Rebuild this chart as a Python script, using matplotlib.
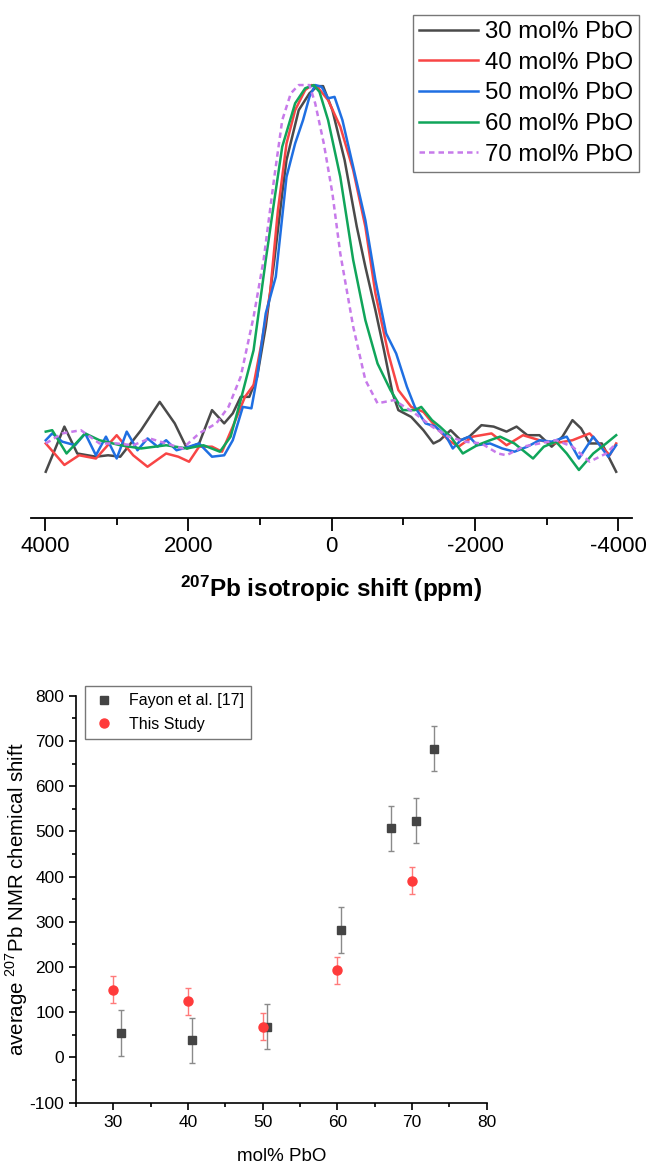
import matplotlib
matplotlib.use("Agg")
import matplotlib.pyplot as plt
from matplotlib.ticker import MultipleLocator
from matplotlib.lines import Line2D

# --- spectra (207Pb MAS NMR, normalised intensity) ---
labels = ["30 mol% PbO", "40 mol% PbO", "50 mol% PbO", "60 mol% PbO", "70 mol% PbO"]

ppm_30 = [3990, 3730, 3550, 3290, 3120, 2950, 2660, 2400, 2190, 2020, 1850, 1670, 1500, 1380,
          1270, 1150, 1040, 920, 800, 690, 630, 460, 310, 200, 120, -10, -180, -350, -470, -610,
          -730, -850, -930, -1110, -1280, -1420, -1510, -1660, -1800, -1920, -2090, -2260, -2440,
          -2580, -2730, -2900, -3070, -3220, -3360, -3480, -3600, -3770, -3970]
int_30 = [-0.079, 0.047, -0.028, -0.037, -0.033, -0.037, 0.037, 0.116, 0.056, -0.014, 0.000, 0.093,
          0.056, 0.084, 0.130, 0.130, 0.186, 0.326, 0.512, 0.698, 0.791, 0.930, 0.977, 0.997, 0.997,
          0.930, 0.791, 0.605, 0.493, 0.372, 0.260, 0.140, 0.093, 0.074, 0.037, 0.000, 0.009, 0.037,
          0.009, 0.019, 0.051, 0.047, 0.033, 0.047, 0.023, 0.023, -0.009, 0.019, 0.065, 0.042, 0.000,
          0.000, -0.079]

ppm_40 = [3990, 3730, 3525, 3290, 3000, 2770, 2570, 2310, 2140, 1990, 1850, 1670, 1530, 1380, 1210,
          1090, 980, 860, 750, 630, 510, 370, 280, 200, 50, -120, -300, -470, -610, -790, -930,
          -1110, -1280, -1450, -1630, -1770, -1970, -2230, -2440, -2670, -2900, -3100, -3360, -3600,
          -3770, -3880, -3970]
int_40 = [0.000, -0.060, -0.033, -0.042, 0.023, -0.033, -0.065, -0.028, -0.037, -0.051, -0.009, -0.009,
          -0.023, 0.047, 0.130, 0.163, 0.279, 0.419, 0.651, 0.837, 0.930, 0.986, 1.000, 0.995, 0.958,
          0.884, 0.763, 0.605, 0.419, 0.251, 0.149, 0.102, 0.088, 0.047, 0.009, -0.009, 0.019, 0.028,
          -0.005, 0.023, 0.009, 0.000, 0.009, 0.028, -0.009, -0.033, 0.000]

ppm_50 = [3990, 3900, 3760, 3580, 3440, 3290, 3150, 3000, 2860, 2710, 2570, 2430, 2310, 2165, 1990,
          1850, 1670, 1500, 1380, 1240, 1120, 1040, 920, 780, 630, 510, 400, 310, 230, 140, 50, -40,
          -150, -300, -470, -610, -760, -900, -1050, -1160, -1310, -1450, -1600, -1690, -1800, -1920,
          -2030, -2210, -2380, -2550, -2730, -2900, -3070, -3280, -3450, -3650, -3860, -3970]
int_50 = [0.009, 0.028, 0.005, -0.005, 0.028, -0.033, 0.019, -0.042, 0.033, -0.019, 0.014, -0.009,
          0.009, -0.019, -0.009, 0.000, -0.037, -0.033, 0.009, 0.102, 0.098, 0.186, 0.363, 0.465, 0.744,
          0.837, 0.902, 0.967, 1.000, 0.995, 0.963, 0.967, 0.902, 0.772, 0.623, 0.456, 0.307, 0.251,
          0.158, 0.102, 0.056, 0.047, 0.019, -0.014, 0.009, 0.019, -0.005, 0.000, -0.014, -0.023,
          -0.009, 0.009, 0.005, 0.019, -0.042, 0.019, -0.037, -0.005]

ppm_60 = [3990, 3900, 3700, 3440, 3240, 2950, 2660, 2310, 2020, 1790, 1560, 1410, 1270, 1090, 920,
          800, 690, 510, 370, 250, 170, 50, -120, -300, -470, -640, -820, -990, -1160, -1250, -1400,
          -1510, -1660, -1830, -2030, -2210, -2350, -2550, -2810, -2960, -3130, -3280, -3450, -3650,
          -3830, -3970]
int_60 = [0.033, 0.037, -0.028, 0.028, 0.009, -0.005, -0.014, -0.005, -0.014, -0.005, -0.023, 0.019,
          0.121, 0.260, 0.512, 0.679, 0.828, 0.949, 0.991, 1.000, 0.981, 0.902, 0.744, 0.512, 0.344,
          0.223, 0.149, 0.093, 0.093, 0.102, 0.065, 0.047, 0.019, -0.028, -0.005, 0.009, 0.019, 0.000,
          -0.042, -0.009, 0.005, -0.028, -0.074, -0.028, 0.000, 0.023]

ppm_70 = [3990, 3760, 3500, 3240, 3000, 2770, 2540, 2310, 2080, 1850, 1610, 1440, 1270, 1090, 950,
          800, 690, 570, 460, 310, 230, 110, -10, -120, -300, -470, -640, -870, -1160, -1400, -1630,
          -1860, -2090, -2320, -2440, -2670, -2900, -3130, -3360, -3600, -3830, -3970]
int_70 = [0.000, 0.028, 0.037, 0.000, 0.000, -0.005, 0.014, 0.000, -0.014, 0.028, 0.056, 0.102, 0.186,
          0.353, 0.512, 0.744, 0.902, 0.977, 1.000, 1.000, 0.949, 0.837, 0.698, 0.530, 0.326, 0.177,
          0.112, 0.121, 0.084, 0.047, 0.019, 0.005, 0.000, -0.028, -0.033, -0.009, 0.000, 0.009,
          -0.009, -0.051, -0.028, 0.000]

# --- average chemical shift vs composition ---
fayon_x = [31.0, 40.5, 50.6, 60.5, 67.2, 70.5, 73.0]
fayon_y = [54, 38, 68, 282, 507, 524, 683]
fayon_err = [50, 50, 50, 50, 50, 50, 50]

study_x = [30, 40, 50, 60, 70]
study_y = [150, 124, 68, 193, 391]
study_err = [30, 30, 30, 30, 30]

plt.rcParams["font.family"] = ["Liberation Sans", "DejaVu Sans"]
plt.rcParams["mathtext.fontset"] = "custom"
plt.rcParams["mathtext.rm"] = "Liberation Sans"
plt.rcParams["mathtext.bf"] = "Liberation Sans:bold"
plt.rcParams["axes.unicode_minus"] = False

W, H = 651, 1169
fig = plt.figure(figsize=(W / 100, H / 100), dpi=100)

# ---------------- top panel ----------------
ax1 = fig.add_axes([30.7 / W, 1 - 518 / H, (632.3 - 30.7) / W, (518 - 70) / H])
colors = ["#4a4a4a", "#f84545", "#1f6fe2", "#10a55a", "#c77aea"]
series = [(ppm_30, int_30), (ppm_40, int_40), (ppm_50, int_50), (ppm_60, int_60), (ppm_70, int_70)]
for (x, y), c, lab in zip(series, colors, labels):
    ls = (0, (2.2, 1.6)) if lab.startswith("70") else "-"
    ax1.plot(x, y, color=c, lw=1.8, ls=ls, label=lab)

ax1.set_xlim(4200, -4195)
ax1.set_ylim(-0.208, 1.042)
for s in ["top", "left", "right"]:
    ax1.spines[s].set_visible(False)
ax1.spines["bottom"].set_linewidth(1.3)
ax1.set_yticks([])
ax1.xaxis.set_minor_locator(MultipleLocator(1000))
ax1.tick_params(axis="x", which="major", direction="out", length=9, width=1.3, labelsize=16, pad=4)
ax1.tick_params(axis="x", which="minor", direction="out", length=5, width=1.3)
ax1.set_xticks([4000, 2000, 0, -2000, -4000])
ax1.set_xticklabels(["4000", "2000", "0", "-2000", "-4000"])
ax1.set_xlabel(r"$\mathbf{^{207}}$Pb isotropic shift (ppm)", fontsize=17.5,
               fontweight="bold", labelpad=12)

leg1 = ax1.legend(loc="upper right", bbox_to_anchor=(639 / W, 1 - 15 / H),
                  bbox_transform=fig.transFigure, fontsize=17.3, frameon=True,
                  fancybox=False, edgecolor="#555555", handlelength=2.45,
                  handletextpad=0.3, labelspacing=0.36, borderpad=0.25, borderaxespad=0)
leg1.get_frame().set_linewidth(1.0)

# ---------------- bottom panel ----------------
ax2 = fig.add_axes([76 / W, 1 - 1102.7 / H, (486.7 - 76) / W, (1102.7 - 695.7) / H])
ax2.errorbar(fayon_x, fayon_y, yerr=fayon_err, fmt="s", color="#444444", ms=6,
             ecolor="#8a8a8a", elinewidth=1.0, capsize=2.5, capthick=1.0, zorder=3)
ax2.errorbar(study_x, study_y, yerr=study_err, fmt="o", color="#ff3b3b", ms=6.5,
             ecolor="#ff7a7a", elinewidth=1.0, capsize=2.5, capthick=1.0, zorder=4)
ax2.set_xlim(25, 80)
ax2.set_ylim(-100, 800)
for s in ["top", "right"]:
    ax2.spines[s].set_visible(False)
for s in ["left", "bottom"]:
    ax2.spines[s].set_linewidth(1.2)
ax2.xaxis.set_major_locator(MultipleLocator(10))
ax2.xaxis.set_minor_locator(MultipleLocator(5))
ax2.yaxis.set_major_locator(MultipleLocator(100))
ax2.yaxis.set_minor_locator(MultipleLocator(50))
ax2.tick_params(which="major", direction="out", length=5, width=1.2, labelsize=12.5)
ax2.tick_params(which="minor", direction="out", length=3, width=1.2)
ax2.set_xticks([30, 40, 50, 60, 70, 80])
ax2.set_xlabel("mol% PbO", fontsize=13.5, labelpad=13)
ax2.set_ylabel(r"average $^{207}$Pb NMR chemical shift", fontsize=14.8)
ax2.yaxis.set_label_coords(-0.112, 0.5)

handles = [Line2D([], [], ls="none", marker="s", ms=6, color="#444444"),
           Line2D([], [], ls="none", marker="o", ms=6.5, color="#ff3b3b")]
leg2 = ax2.legend(handles, ["Fayon et al. [17]", "This Study"], loc="upper left",
                  bbox_to_anchor=(85 / W, 1 - 686 / H), bbox_transform=fig.transFigure,
                  frameon=True, fancybox=False, edgecolor="#555555", handlelength=1.5,
                  handletextpad=0.8, labelspacing=0.55, borderpad=0.45, borderaxespad=0,
                  fontsize=11.5)
leg2.get_frame().set_linewidth(1.0)

fig.savefig("out.png", dpi=100)
